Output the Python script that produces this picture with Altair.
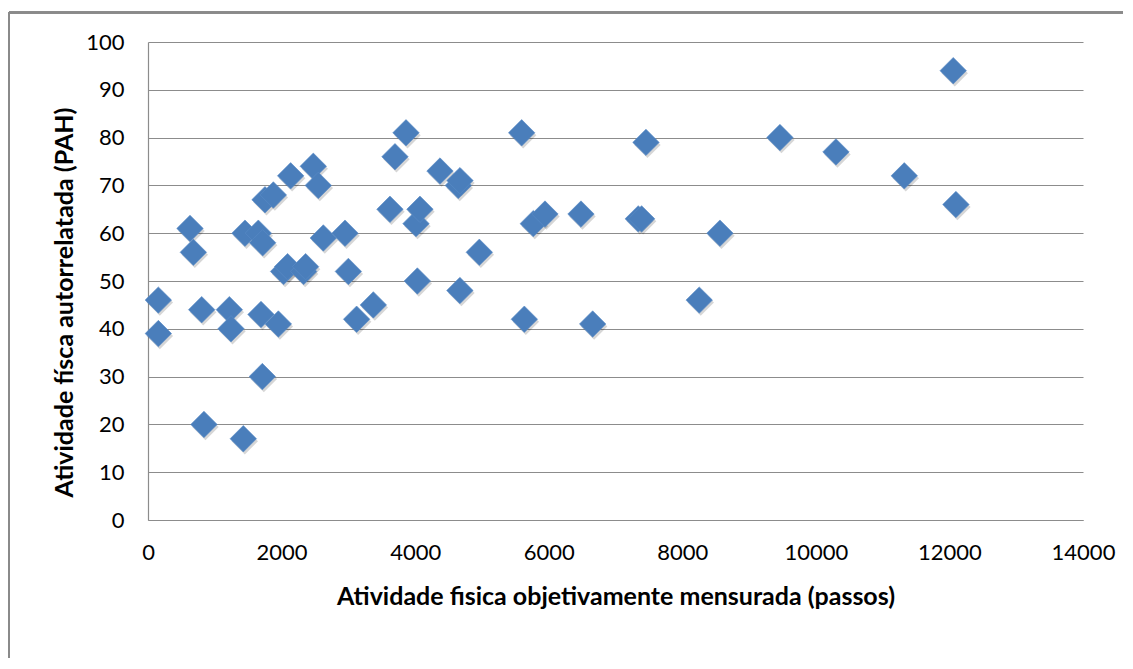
import altair as alt
import pandas as pd

passos = [155, 155, 629, 679, 804, 838, 1218, 1243, 1427, 1452, 1652, 1692, 1712, 1717,
          1752, 1877, 1952, 2030, 2090, 2136, 2330, 2360, 2475, 2550, 2625, 2950, 3000,
          3124, 3374, 3623, 3698, 3863, 4013, 4033, 4072, 4372, 4646, 4671, 4670, 4961,
          5595, 5635, 5769, 5944, 6483, 6658, 7341, 7391, 7456, 8254, 8564, 9462, 10301,
          11324, 12057, 12097]
pah = [46, 39, 61, 56, 44, 20, 44, 40, 17, 60, 60, 43, 30, 58,
       67, 68, 41, 52, 53, 72, 52, 53, 74, 70, 59, 60, 52,
       42, 45, 65, 76, 81, 62, 50, 65, 73, 70, 71, 48, 56,
       81, 42, 62, 64, 64, 41, 63, 63, 79, 46, 60, 80, 77,
       72, 94, 66]

x_title = "Atividade fisica objetivamente mensurada (passos)"
y_title = "Atividade físca autorrelatada (PAH)"

df = pd.DataFrame({"passos": passos, "pah": pah})

FONT = "Lato"
GRID = "#8c8c8c"

xenc = alt.X("passos:Q", scale=alt.Scale(domain=[0, 14000], nice=False),
             axis=alt.Axis(title=x_title, values=list(range(0, 14001, 2000)),
                           format="d", grid=False, ticks=False, labelPadding=22,
                           labelFlush=False, labelOverlap=False,
                           titleY=84, titleBaseline="alphabetic"))
yenc = alt.Y("pah:Q", scale=alt.Scale(domain=[0, 100], nice=False),
             axis=alt.Axis(title=y_title, values=list(range(0, 101, 10)),
                           format="d", grid=True, ticks=False, labelPadding=24,
                           labelFlush=False, labelOverlap=False,
                           titleX=-76, titleY=260, titleAngle=-90,
                           titleAlign="center", titleBaseline="alphabetic"))

shadow = alt.Chart(df).mark_point(
    shape="diamond", filled=True, size=700, color="#000000", opacity=0.16,
    xOffset=1.5, yOffset=2.5
).encode(x=xenc, y=yenc)

points = alt.Chart(df).mark_point(
    shape="diamond", filled=True, size=700, color="#4a7ebb", opacity=1,
    stroke="#5a8cc6", strokeWidth=0.6
).encode(x=xenc, y=yenc)

border_top = alt.Chart(df).mark_rule(color="#8a8a8a", strokeWidth=1.5).encode(
    x=alt.value(-139), x2=alt.value(1200), y=alt.value(-29.5))
border_left = alt.Chart(df).mark_rule(color="#8a8a8a", strokeWidth=1.5).encode(
    x=alt.value(-139), y=alt.value(-29.5), y2=alt.value(700))

chart = alt.layer(border_top, border_left, shadow, points).properties(
    width=935, height=478,
    autosize=alt.AutoSizeParams(type="none"),
    padding={"left": 140, "top": 34, "right": 40, "bottom": 138},
).configure_view(stroke=None).configure_axis(
    domainColor=GRID, gridColor=GRID, domainWidth=1.2, gridWidth=1.2,
    labelFont=FONT, labelFontSize=22, labelColor="#000000",
    titleFont=FONT, titleFontSize=25, titleFontWeight="bold", titleColor="#000000",
)

chart.save("out.html", embed_options={"renderer": "svg", "actions": False})
